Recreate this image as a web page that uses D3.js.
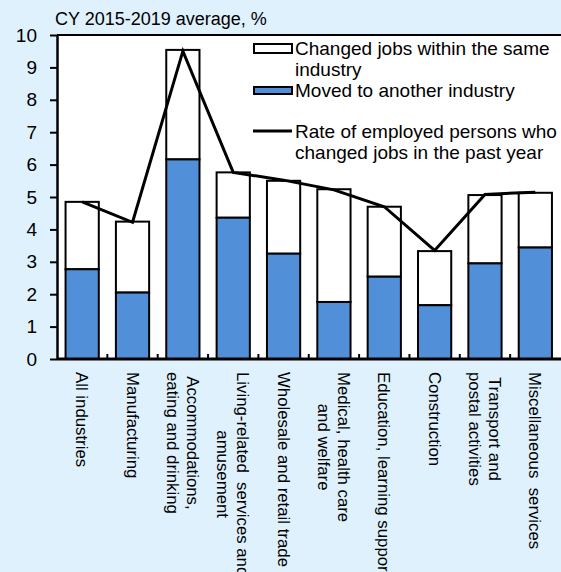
<!DOCTYPE html>
<html><head><meta charset="utf-8">
<script src="https://cdn.jsdelivr.net/npm/d3@7"></script>
<style>
html,body{margin:0;padding:0;background:#dff1fd;}
svg{display:block;font-family:"Liberation Sans",Arial,sans-serif;}
text{white-space:pre;}
</style></head>
<body><svg id="c" width="561" height="572"></svg>
<script>
const categories = [
  ["All industries"],
  ["Manufacturing"],
  ["Accommodations,", "eating and drinking"],
  ["Living-related  services and", "amusement"],
  ["Wholesale and retail trade"],
  ["Medical, health care", "and welfare"],
  ["Education, learning support"],
  ["Construction"],
  ["Transport and", "postal activities"],
  ["Miscellaneous  services"]
];
const moved  = [2.77, 2.05, 6.16, 4.36, 3.25, 1.76, 2.54, 1.66, 2.95, 3.44];
const within = [2.08, 2.19, 3.38, 1.40, 2.25, 3.48, 2.16, 1.67, 2.11, 1.69];
const rate   = [4.85, 4.22, 9.50, 5.76, 5.52, 5.22, 4.70, 3.35, 5.08, 5.15];
const yTicks = [0,1,2,3,4,5,6,7,8,9,10];
const subtitle = "CY 2015-2019 average, %";
const legendLabels = [["Changed jobs within the same","industry"],["Moved to another industry"],["Rate of employed persons who","changed jobs in the past year"]];

const svg = d3.select("#c");
const L = 57, R = 560.5, T = 35, B = 359;
const blue = "#528fd9";
svg.append("rect").attr("width",561).attr("height",572).attr("fill","#dff1fd");
svg.append("rect").attr("x",L).attr("y",T).attr("width",561-L).attr("height",B-T).attr("fill","#fff");

const idx = categories.map((d,i)=>i);
const x = d3.scaleBand().domain(idx).range([L,R]).paddingInner(0.34).paddingOuter(0.17);
const y = d3.scaleLinear().domain([0,10]).range([B,T]);

// bars
const g = svg.append("g");
idx.forEach(i=>{
  g.append("rect").attr("x",x(i)).attr("width",x.bandwidth())
    .attr("y",y(moved[i]+within[i])).attr("height",y(moved[i])-y(moved[i]+within[i]))
    .attr("fill","#fff").attr("stroke","#000").attr("stroke-width",2);
  g.append("rect").attr("x",x(i)).attr("width",x.bandwidth())
    .attr("y",y(moved[i])).attr("height",y(0)-y(moved[i]))
    .attr("fill",blue).attr("stroke","#000").attr("stroke-width",2);
});

// line
const line = d3.line().x((d,i)=>x(i)+x.bandwidth()/2).y(d=>y(d));
svg.append("path").datum(rate).attr("d",line).attr("fill","none").attr("stroke","#000").attr("stroke-width",3).attr("stroke-linejoin","miter");

// top border
svg.append("line").attr("x1",L).attr("x2",561).attr("y1",T).attr("y2",T).attr("stroke","#000").attr("stroke-width",2);

// y axis
const ya = svg.append("g").attr("transform",`translate(${L},0)`)
  .call(d3.axisLeft(y).tickValues(yTicks).tickSize(7).tickPadding(13).tickSizeOuter(0));
ya.select(".domain").attr("stroke","#000").attr("stroke-width",2.5);
ya.selectAll(".tick line").attr("stroke","#000").attr("stroke-width",2);
ya.selectAll(".tick text").attr("font-size",19).attr("fill","#000").attr("font-family","Liberation Sans, Arial, sans-serif");

// x axis
const step = x.step();
const xa = svg.append("g").attr("transform",`translate(0,${B})`);
xa.append("line").attr("x1",L).attr("x2",561).attr("y1",0).attr("y2",0).attr("stroke","#000").attr("stroke-width",3);
for(let k=1;k<categories.length;k++){
  const xx = L + k*step;
  xa.append("line").attr("x1",xx).attr("x2",xx).attr("y1",0).attr("y2",-5).attr("stroke","#000").attr("stroke-width",2);
}
idx.forEach(i=>{
  const lines = categories[i];
  const cx = x(i)+x.bandwidth()/2;
  const n = lines.length;
  const tg = xa.append("g");
  const texts = lines.map((t,j)=>tg.append("text").text(t).attr("font-size",16.8).attr("fill","#000")
      .attr("text-anchor","middle"));
  const maxLen = d3.max(texts.map(t=>t.node().getComputedTextLength()));
  const lh = 20;
  texts.forEach((t,j)=>{
    const off = (j - (n-1)/2)*lh;
    t.attr("transform",`translate(${cx - off},${13 + maxLen/2}) rotate(90)`)
     .attr("dy","0.35em");
  });
});

// subtitle
svg.append("text").attr("x",55).attr("y",25).attr("font-size",18).attr("fill","#000").text(subtitle);

// legend
const lg = svg.append("g");
lg.append("rect").attr("x",254).attr("y",44).attr("width",38).attr("height",9).attr("fill","#fff").attr("stroke","#000").attr("stroke-width",2);
lg.append("rect").attr("x",254).attr("y",87).attr("width",38).attr("height",7).attr("fill",blue).attr("stroke","#000").attr("stroke-width",2);
lg.append("line").attr("x1",253).attr("x2",292).attr("y1",131).attr("y2",131).attr("stroke","#000").attr("stroke-width",3);
const lt = (t,yy)=>lg.append("text").attr("x",295).attr("y",yy).attr("font-size",19).attr("fill","#000").text(t);
lt(legendLabels[0][0],55); lt(legendLabels[0][1],76);
lt(legendLabels[1][0],97);
lt(legendLabels[2][0],138); lt(legendLabels[2][1],159);
</script></body></html>
